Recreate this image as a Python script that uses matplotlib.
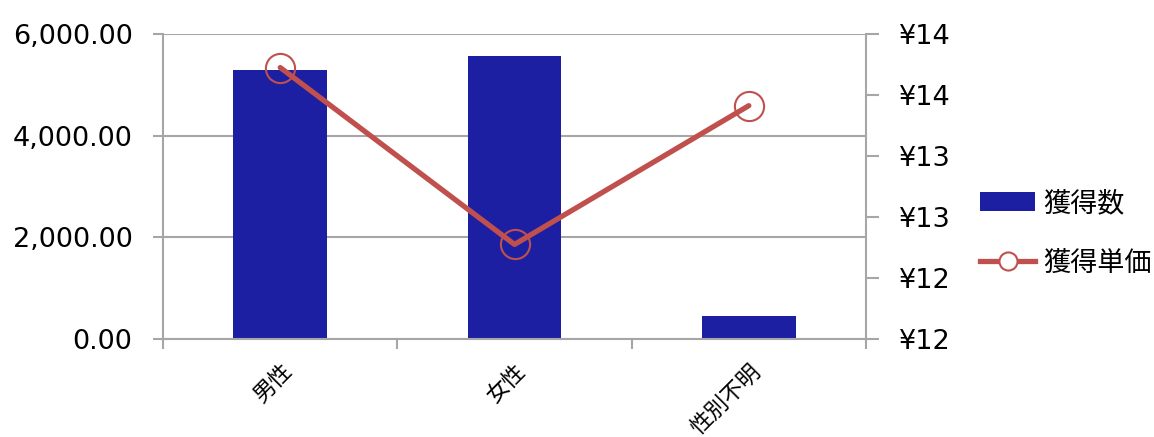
import matplotlib
matplotlib.use("Agg")
import matplotlib.pyplot as plt
from matplotlib.ticker import FuncFormatter, FixedLocator
from matplotlib.lines import Line2D
from matplotlib.patches import Patch

categories = ["男性", "女性", "性別不明"]
counts = [5290, 5570, 450]
unit_price = [13.78, 12.62, 13.53]
left_ticks = [0, 2000, 4000, 6000]
right_ticks = [12.0, 12.4, 12.8, 13.2, 13.6, 14.0]

plt.rcParams['font.family'] = ['DejaVu Sans', 'Noto Sans CJK JP']
BAR = '#1C1FA1'
LINE = '#C0504D'
GRID = '#A6A6A6'

fig = plt.figure(figsize=(11.54, 4.37), dpi=100)
ax = fig.add_axes([0.1413, 0.2243, 0.6091, 0.6979])
x = list(range(len(categories)))
ax.bar(x, counts, width=0.40, color=BAR, zorder=2)
ax.set_xlim(-0.5, 2.5)
ax.set_ylim(0, 6000)
ax.yaxis.set_major_locator(FixedLocator(left_ticks))
ax.yaxis.set_major_formatter(FuncFormatter(lambda v, p: f"{v:,.2f}"))
ax.grid(axis='y', color=GRID, linewidth=1.5, zorder=0)
ax.set_axisbelow(True)
for s in ['top', 'bottom', 'right']:
    ax.spines[s].set_visible(False)
ax.spines['left'].set_color(GRID)
ax.spines['left'].set_linewidth(1.5)
ax.tick_params(axis='y', length=7, width=1.5, color=GRID, pad=15, labelsize=19.5, labelcolor='black')

ax.set_xticks(x)
ax.set_xticklabels(categories, rotation=45, ha='right', va='top', rotation_mode='anchor',
                   fontsize=16, family=['Noto Sans CJK JP'])
ax.tick_params(axis='x', which='major', length=0, pad=15)
ax.set_xticks([-0.5, 0.5, 1.5, 2.5], minor=True)
ax.tick_params(axis='x', which='minor', length=7, width=1.5, color=GRID)
ax.spines['bottom'].set_visible(True)
ax.spines['bottom'].set_color(GRID)
ax.spines['bottom'].set_linewidth(1.5)

ax2 = ax.twinx()
ax2.plot(x, unit_price, color=LINE, linewidth=3.8, solid_capstyle='round', zorder=3)
ax2.plot(x, unit_price, linestyle='none', marker='o', markersize=21, markerfacecolor='none',
         markeredgecolor=LINE, markeredgewidth=1.5, zorder=4)
ax2.set_ylim(12.0, 14.0)
ax2.yaxis.set_major_locator(FixedLocator(right_ticks))
ax2.yaxis.set_major_formatter(FuncFormatter(lambda v, p: f"¥{round(v):d}"))
for s in ['top', 'bottom', 'left']:
    ax2.spines[s].set_visible(False)
ax2.spines['right'].set_color(GRID)
ax2.spines['right'].set_linewidth(1.5)
ax2.tick_params(axis='y', length=9, width=1.5, color=GRID, pad=15, labelsize=19.5, labelcolor='black')

handles = [Patch(facecolor=BAR, edgecolor='none'),
           Line2D([0], [0], color=LINE, linewidth=3.8, marker='o', markersize=13,
                  markerfacecolor='white', markeredgecolor=LINE, markeredgewidth=1.5)]
fig.legend(handles, ["獲得数", "獲得単価"], loc='center left', bbox_to_anchor=(0.828, 0.466),
           frameon=False, prop={'family': ['Noto Sans CJK JP'], 'size': 19.5},
           handlelength=2.05, handletextpad=0.3, labelspacing=1.2)

fig.savefig("out.png", dpi=100)
